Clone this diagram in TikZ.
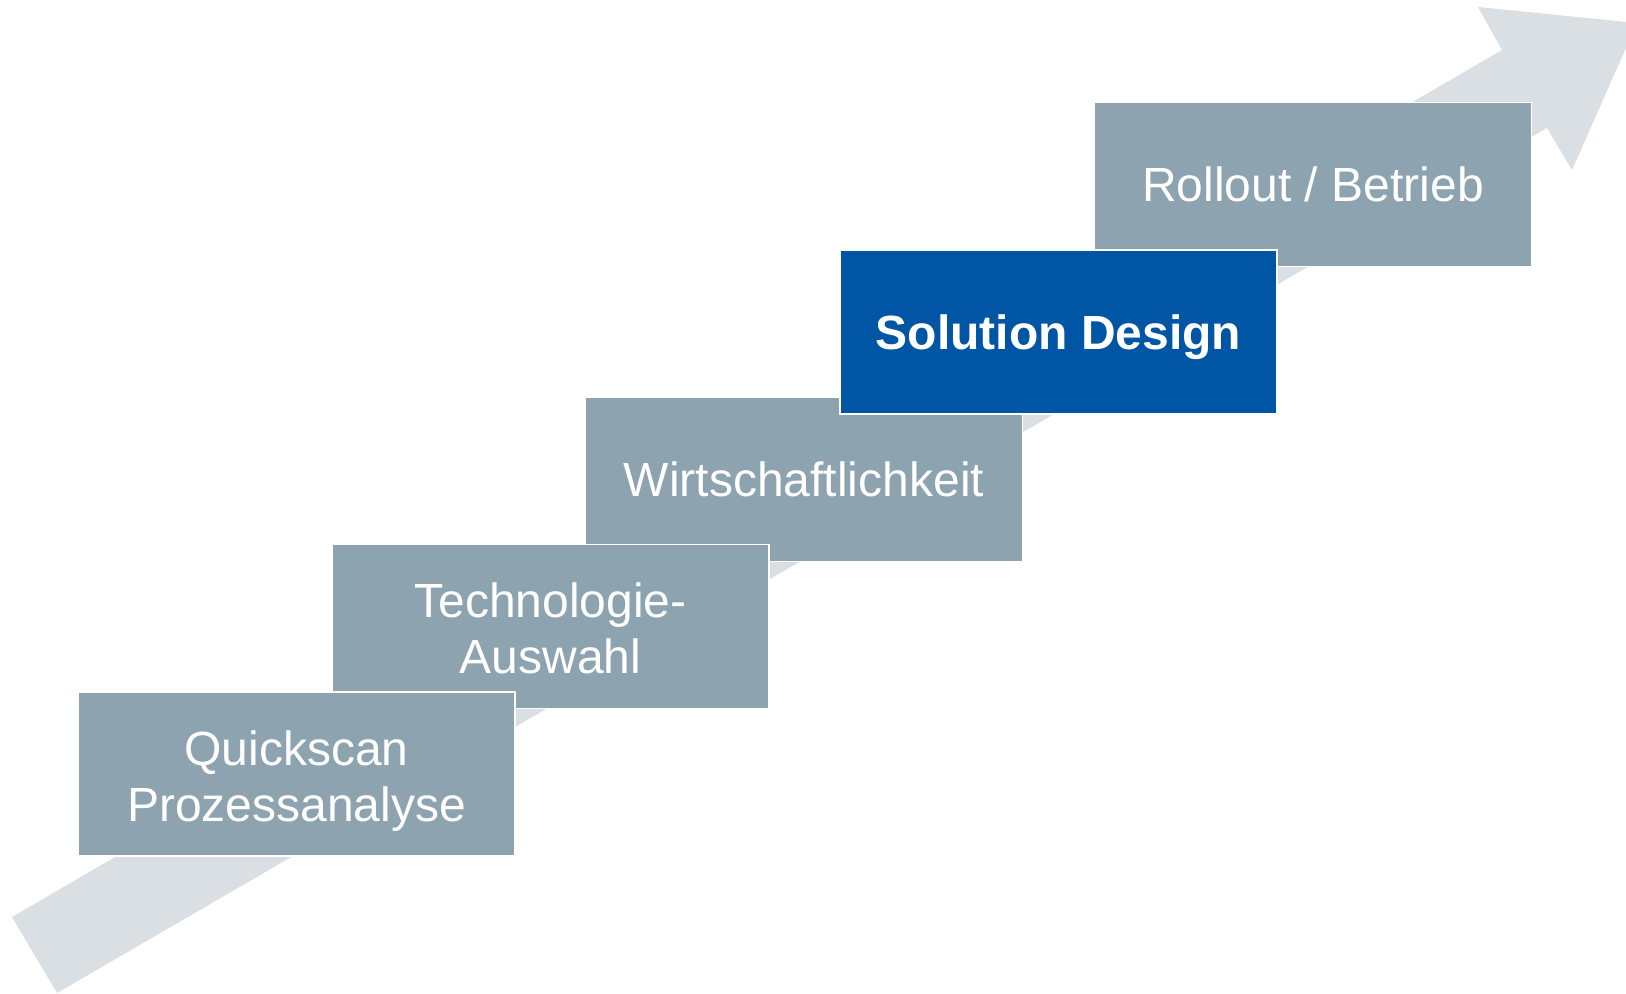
\documentclass[tikz,border=0pt]{standalone}
\usepackage{fontspec}
\setmainfont{Liberation Sans}
\usepackage{tikz}
\usetikzlibrary{positioning}

\definecolor{boxgray}{HTML}{8DA4B0}
\definecolor{boxblue}{HTML}{0055A4}
\definecolor{arrowgray}{HTML}{DADFE3}

\begin{document}
\begin{tikzpicture}[
			x=0.5pt,y=-0.5pt,
			stepbox/.style={draw=white,line width=0.6pt,fill=boxgray,text=white,
				minimum width=218.5pt,minimum height=82pt,inner sep=0pt,align=center,
				text height=22.4pt,text depth=5pt,
				font=\fontsize{24}{28}\selectfont},
			twoline/.style={stepbox,text height=52.3pt,text depth=5pt},
			activebox/.style={stepbox,fill=boxblue,font=\fontsize{24}{28}\selectfont\bfseries}
		]
		\useasboundingbox (0,0) rectangle (1626,994);
		\clip (0,0) rectangle (1626,994);

		% big background arrow
		\coordinate (tailA) at (12,917);
		\coordinate (tailB) at (57,993);
		\coordinate (neckA) at (1502,50);
		\coordinate (neckB) at (1547,128);
		\coordinate (barbA) at (1478,7);
		\coordinate (barbB) at (1572,170);
		\coordinate (tip) at (1637,23);
		\fill[arrowgray] (tailA) -- (neckA) -- (barbA) -- (tip) -- (barbB) -- (neckB) -- (tailB) -- cycle;

		% steps
		\node[stepbox] (roll) at (1313,184.5) {Rollout / Betrieb};
		\node[stepbox] (wirt) at (804,479.5) {Wirtschaftlichkeit};
		\node[activebox] (sol) at (1058.5,332) {Solution Design};
		\node[twoline] (tech) at (550.5,626.5) {Technologie-\\Auswahl};
		\node[twoline] (quick) at (296.5,774) {Quickscan\\Prozessanalyse};

	\end{tikzpicture}
\end{document}
